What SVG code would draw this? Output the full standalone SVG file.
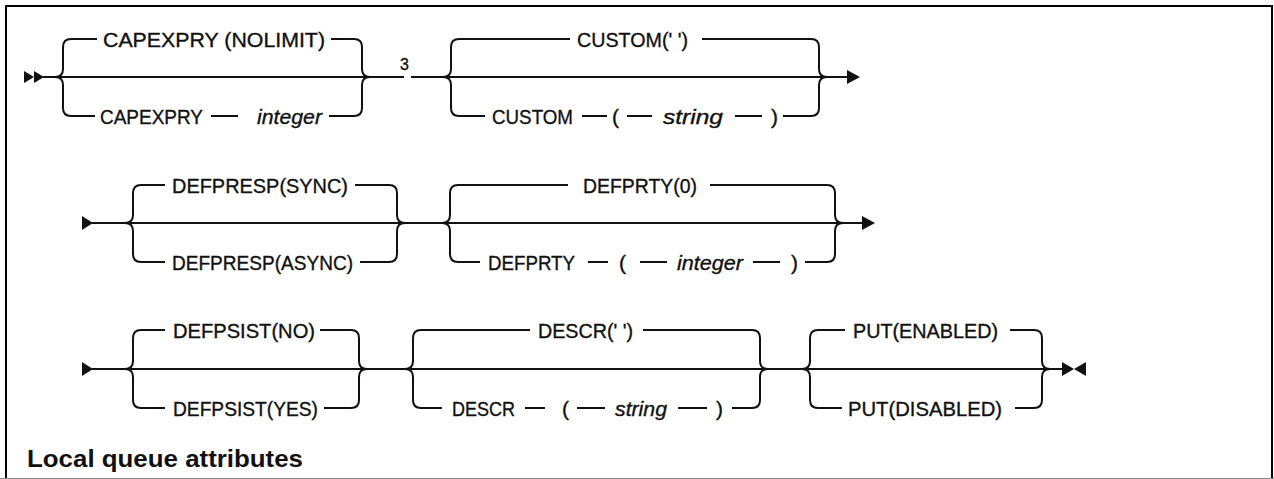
<svg xmlns="http://www.w3.org/2000/svg" width="1274" height="479" viewBox="0 0 1274 479">
<style>
.t{font-family:"Liberation Sans",Arial,sans-serif;font-size:21px;fill:#111;stroke:#111;stroke-width:0.35}
.i{font-style:italic}
.h{font-family:"Liberation Sans",Arial,sans-serif;font-size:24px;font-weight:bold;fill:#111}
.n{font-family:"Liberation Sans",Arial,sans-serif;font-size:16px;fill:#111;stroke:#111;stroke-width:0.35}
.c path{fill:none;stroke:#111;stroke-width:2}
.c polygon{fill:#111;stroke:none}
.f{fill:none;stroke:#000;stroke-width:2}
</style>
<rect x="0" y="0" width="1274" height="479" fill="#fff"/>
<g id="frame">
<path class="f" d="M5,6 H1273 M6,5 V478 M1272,5 V478"/>
<path d="M0,478.5 H1274" stroke="#888" stroke-width="1" fill="none"/>
</g>
<g id="connectors" class="c">
<!-- row 1 -->
<polygon points="24,71 34,77 24,83"/>
<polygon points="34,71 44,77 34,83"/>
<path d="M43,77 H404 M411,77 H848"/>
<path d="M55,77 Q63,77 63,69 V47 Q63,39 71,39 H97 M331,39 H354 Q362,39 362,47 V69 Q362,77 370,77"/>
<path d="M55,77 Q63,77 63,85 V108 Q63,116 71,116 H95 M211,116 H238 M329,116 H354 Q362,116 362,108 V85 Q362,77 370,77"/>
<path d="M443,77 Q451,77 451,69 V47 Q451,39 459,39 H570 M702,39 H811 Q819,39 819,47 V69 Q819,77 827,77"/>
<path d="M443,77 Q451,77 451,85 V108 Q451,116 459,116 H485 M582,116 H607 M627,116 H652 M735,116 H762 M783,116 H811 Q819,116 819,108 V85 Q819,77 827,77"/>
<polygon points="847,70 860,77 847,84"/>
<!-- row 2 -->
<polygon points="82,216 93,223 82,230"/>
<path d="M92,223 H863"/>
<path d="M125,223 Q133,223 133,215 V193 Q133,185 141,185 H165 M355,185 H389 Q397,185 397,193 V215 Q397,223 405,223"/>
<path d="M125,223 Q133,223 133,231 V254 Q133,262 141,262 H165 M360,262 H389 Q397,262 397,254 V231 Q397,223 405,223"/>
<path d="M442,223 Q450,223 450,215 V193 Q450,185 458,185 H568 M710,185 H827 Q835,185 835,193 V215 Q835,223 843,223"/>
<path d="M442,223 Q450,223 450,231 V254 Q450,262 458,262 H480 M588,262 H608 M640,262 H667 M753,262 H780 M805,262 H827 Q835,262 835,254 V231 Q835,223 843,223"/>
<polygon points="862,216 875,223 862,230"/>
<!-- row 3 -->
<polygon points="82,362 93,369 82,376"/>
<path d="M92,369 H1063"/>
<path d="M125,369 Q133,369 133,361 V338 Q133,330 141,330 H165 M320,330 H351 Q359,330 359,338 V361 Q359,369 367,369"/>
<path d="M125,369 Q133,369 133,377 V400 Q133,408 141,408 H165 M324,408 H351 Q359,408 359,400 V377 Q359,369 367,369"/>
<path d="M405,369 Q413,369 413,361 V338 Q413,330 421,330 H530 M643,330 H752 Q760,330 760,338 V361 Q760,369 768,369"/>
<path d="M405,369 Q413,369 413,377 V400 Q413,408 421,408 H442 M525,408 H545 M577,408 H605 M678,408 H707 M732,408 H752 Q760,408 760,400 V377 Q760,369 768,369"/>
<path d="M802,369 Q810,369 810,361 V338 Q810,330 818,330 H845 M1010,330 H1034 Q1042,330 1042,338 V361 Q1042,369 1050,369"/>
<path d="M802,369 Q810,369 810,377 V400 Q810,408 818,408 H842 M1015,408 H1034 Q1042,408 1042,400 V377 Q1042,369 1050,369"/>
<polygon points="1062,362 1074,369 1062,376"/>
<polygon points="1086,362 1074,369 1086,376"/>
</g>
<g id="capexpry-nolimit"><text class="t" x="103" y="47" textLength="222" lengthAdjust="spacingAndGlyphs">CAPEXPRY (NOLIMIT)</text></g>
<g id="capexpry"><text class="t" x="100" y="124" textLength="103" lengthAdjust="spacingAndGlyphs">CAPEXPRY</text></g>
<g id="capexpry-integer"><text class="t i" x="257" y="124" textLength="65" lengthAdjust="spacingAndGlyphs">integer</text></g>
<g id="note-3"><text class="n" x="400" y="70">3</text></g>
<g id="custom-default"><text class="t" x="577" y="47" textLength="111" lengthAdjust="spacingAndGlyphs">CUSTOM(' ')</text></g>
<g id="custom"><text class="t" x="492" y="124" textLength="81" lengthAdjust="spacingAndGlyphs">CUSTOM</text></g>
<g id="custom-lp"><text class="t" x="612" y="124">(</text></g>
<g id="custom-string"><text class="t i" x="663" y="124" textLength="60" lengthAdjust="spacingAndGlyphs">string</text></g>
<g id="custom-rp"><text class="t" x="771" y="124">)</text></g>
<g id="defpresp-sync"><text class="t" x="172" y="193" textLength="176" lengthAdjust="spacingAndGlyphs">DEFPRESP(SYNC)</text></g>
<g id="defpresp-async"><text class="t" x="172" y="270" textLength="181" lengthAdjust="spacingAndGlyphs">DEFPRESP(ASYNC)</text></g>
<g id="defprty-default"><text class="t" x="583" y="193" textLength="114" lengthAdjust="spacingAndGlyphs">DEFPRTY(0)</text></g>
<g id="defprty"><text class="t" x="488" y="270" textLength="87" lengthAdjust="spacingAndGlyphs">DEFPRTY</text></g>
<g id="defprty-lp"><text class="t" x="619" y="270">(</text></g>
<g id="defprty-integer"><text class="t i" x="677" y="270" textLength="66" lengthAdjust="spacingAndGlyphs">integer</text></g>
<g id="defprty-rp"><text class="t" x="791" y="270">)</text></g>
<g id="defpsist-no"><text class="t" x="173" y="338" textLength="142" lengthAdjust="spacingAndGlyphs">DEFPSIST(NO)</text></g>
<g id="defpsist-yes"><text class="t" x="173" y="416" textLength="145" lengthAdjust="spacingAndGlyphs">DEFPSIST(YES)</text></g>
<g id="descr-default"><text class="t" x="538" y="338" textLength="95" lengthAdjust="spacingAndGlyphs">DESCR(' ')</text></g>
<g id="descr"><text class="t" x="452" y="416" textLength="63" lengthAdjust="spacingAndGlyphs">DESCR</text></g>
<g id="descr-lp"><text class="t" x="562" y="416">(</text></g>
<g id="descr-string"><text class="t i" x="615" y="416" textLength="52" lengthAdjust="spacingAndGlyphs">string</text></g>
<g id="descr-rp"><text class="t" x="716" y="416">)</text></g>
<g id="put-enabled"><text class="t" x="853" y="338" textLength="145" lengthAdjust="spacingAndGlyphs">PUT(ENABLED)</text></g>
<g id="put-disabled"><text class="t" x="848" y="416" textLength="154" lengthAdjust="spacingAndGlyphs">PUT(DISABLED)</text></g>
<g id="title"><text class="h" x="27" y="467" textLength="276" lengthAdjust="spacingAndGlyphs">Local queue attributes</text></g>
</svg>
